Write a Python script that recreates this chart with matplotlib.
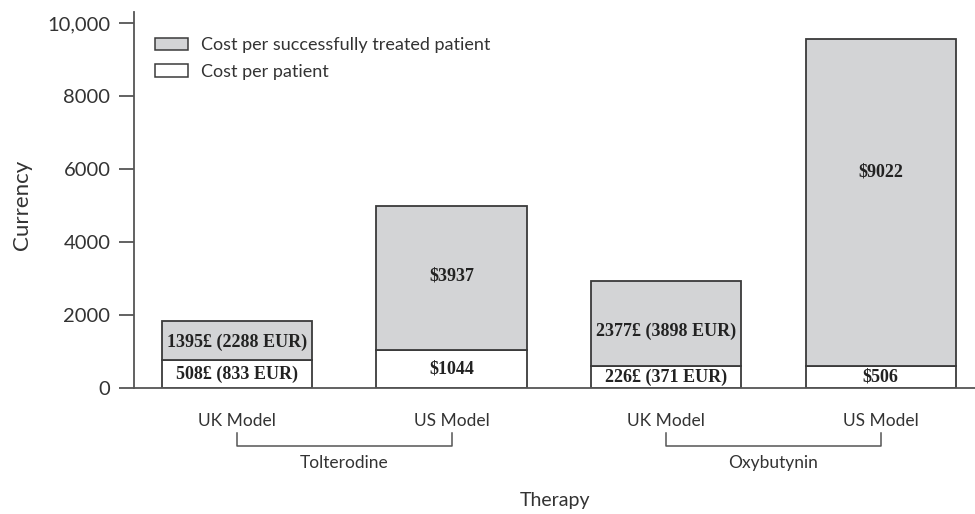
import matplotlib
matplotlib.use('Agg')
import matplotlib.pyplot as plt
import matplotlib.transforms as mtransforms
from matplotlib.patches import Patch

plt.rcParams['font.family'] = ['Lato', 'DejaVu Sans']

# data
therapies = ['Tolterodine', 'Oxybutynin']
models = ['UK Model', 'US Model', 'UK Model', 'US Model']
cost_patient = [767, 1044, 611, 592]          # white segment height
cost_success = [1058, 3951, 2329, 8970]       # grey segment height (stacked)
patient_labels = ['508£ (833 EUR)', '$1044', '226£ (371 EUR)', '$506']
success_labels = ['1395£ (2288 EUR)', '$3937', '2377£ (3898 EUR)', '$9022']
success_label_y = [1245, 3075, 1550, 5925]

grey = '#d3d4d6'
edge = '#3a3a3a'
axcol = '#555555'

W, H = 975, 514
fig = plt.figure(figsize=(W / 100, H / 100), dpi=100)
# axes in pixel terms: left 134, right 975, top 12, bottom 388
ax = fig.add_axes([134 / W, (H - 388) / H, (975 - 134) / W, (388 - 12) / H])

x = list(range(len(models)))
ax.bar(x, cost_patient, width=0.70, color='white', edgecolor=edge, linewidth=1.3, zorder=2)
ax.bar(x, cost_success, width=0.70, bottom=cost_patient, color=grey,
       edgecolor=edge, linewidth=1.3, zorder=2)

for i in x:
    ax.text(i, cost_patient[i] / 2, patient_labels[i], ha='center', va='center',
            family='Liberation Serif', fontweight='bold', fontsize=13, color='#222222')
    ax.text(i, success_label_y[i], success_labels[i], ha='center', va='center',
            family='Liberation Serif', fontweight='bold', fontsize=13, color='#222222')

ax.set_xlim(-0.48, 3.44)
ax.set_ylim(0, 10300)
ax.set_yticks([0, 2000, 4000, 6000, 8000, 10000])
ax.set_yticklabels(['0', '2000', '4000', '6000', '8000', '10,000'])
ax.set_xticks(x)
ax.set_xticklabels(models)

for s in ['top', 'right']:
    ax.spines[s].set_visible(False)
for s in ['left', 'bottom']:
    ax.spines[s].set_color(axcol)
    ax.spines[s].set_linewidth(1.3)

ax.tick_params(axis='y', length=11, width=1.3, color=axcol, labelsize=14.5,
               labelcolor='#333333', pad=6)
ax.tick_params(axis='x', length=0, labelsize=12.5, labelcolor='#333333', pad=18)

# bracket under each pair of bars
ah = 388 - 12
trans = mtransforms.blended_transform_factory(ax.transData, ax.transAxes)
for g, name in enumerate(therapies):
    x0, x1 = 2 * g, 2 * g + 1
    yb = -58 / ah
    yt = -45 / ah
    ax.plot([x0, x0, x1, x1], [yt, yb, yb, yt], transform=trans, color=axcol,
            lw=1.1, clip_on=False)
    ax.text((x0 + x1) / 2, -75 / ah, name, transform=trans, ha='center',
            va='center', fontsize=12.5, color='#333333')

ax.set_ylabel('Currency', fontsize=16, color='#333333')
ax.yaxis.set_label_coords((32 - 134) / 841, (388 - 205) / ah)
ax.set_xlabel('Therapy', fontsize=14, color='#333333')
ax.xaxis.set_label_coords(0.5, -(492 - 388) / ah)

handles = [Patch(facecolor=grey, edgecolor=edge, linewidth=1.1),
           Patch(facecolor='white', edgecolor=edge, linewidth=1.1)]
ax.legend(handles, ['Cost per successfully treated patient', 'Cost per patient'],
          loc='upper left', bbox_to_anchor=((155 - 134) / 841, 1 - 25 / ah),
          frameon=False, fontsize=13, handlelength=1.8, handleheight=0.65,
          handletextpad=0.75, labelspacing=0.6, borderpad=0, borderaxespad=0,
          labelcolor='#333333')

fig.savefig('out.png', dpi=100)
